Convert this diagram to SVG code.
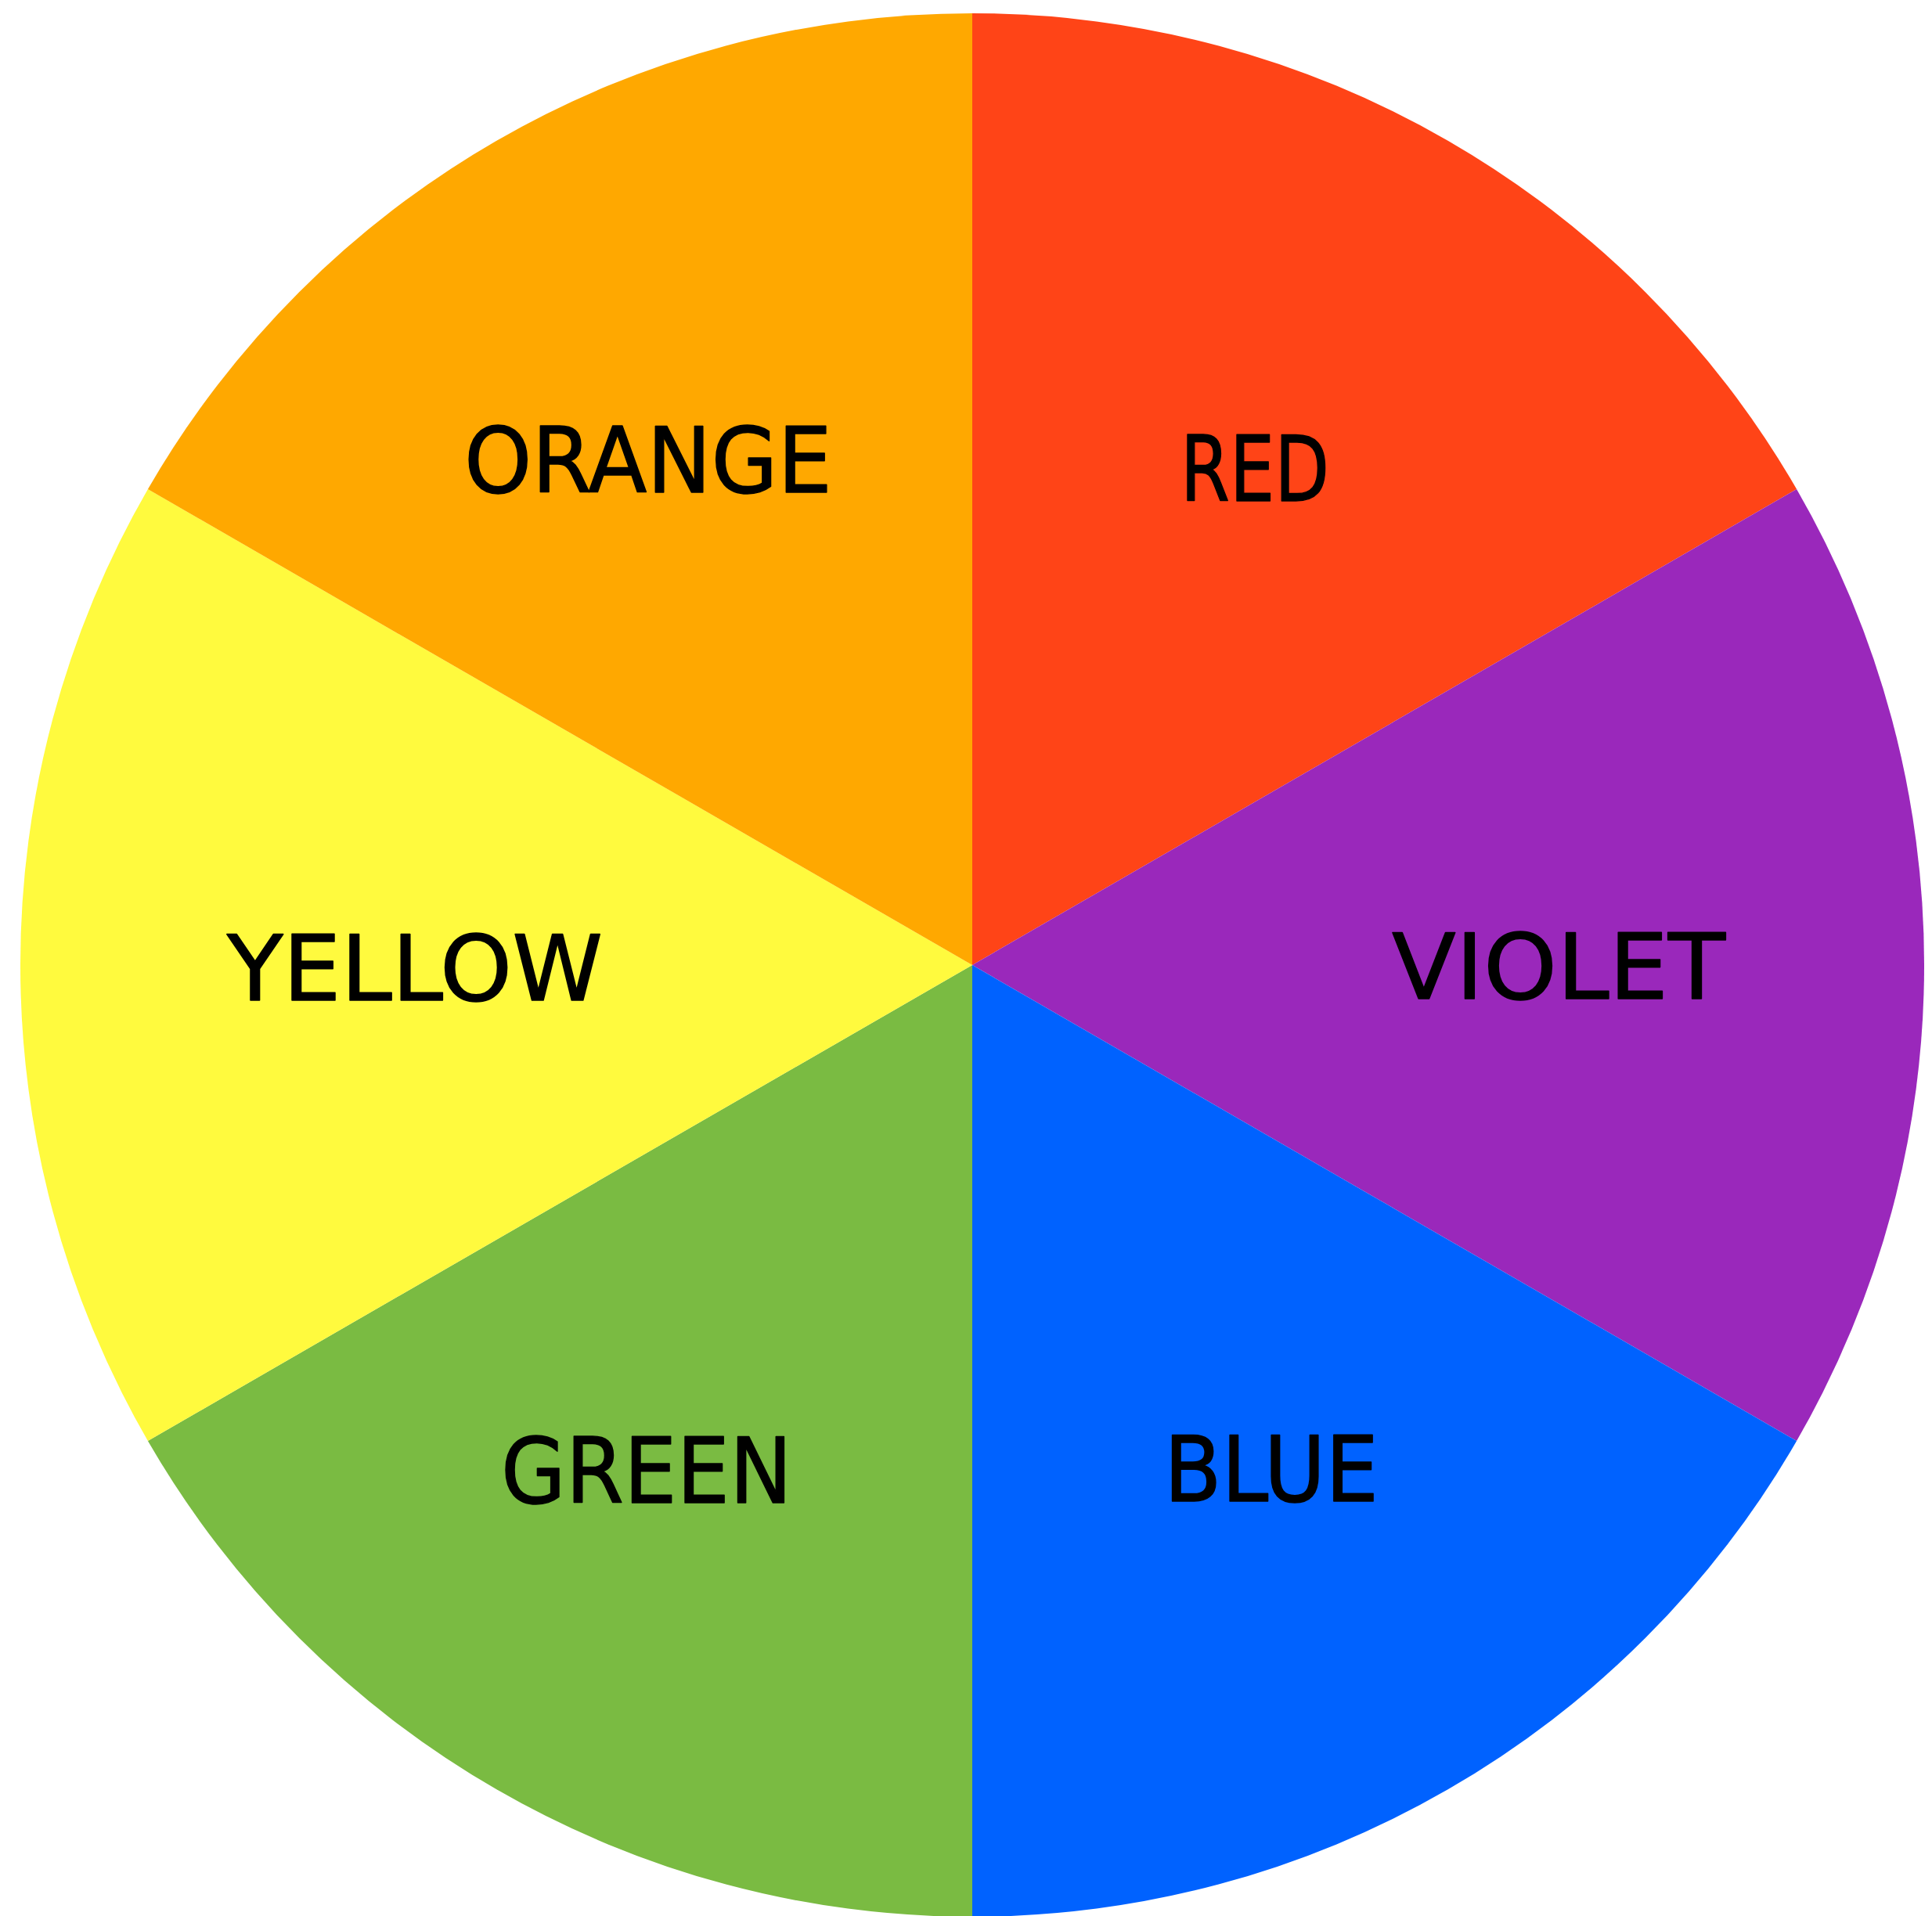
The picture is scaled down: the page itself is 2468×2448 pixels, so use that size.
<svg xmlns="http://www.w3.org/2000/svg" width="2468" height="2448" viewBox="0 0 2468 2448">
<style>
.lbl{font-family:"DejaVu Sans","Liberation Sans",sans-serif;font-size:116px;fill:#000;stroke:#000;stroke-width:1.5;stroke-linejoin:round}
</style>
<rect width="2468" height="2448" fill="#fff"/>
<g id="red">
<path d="M1242 1233 L1242 17 A1216 1216 0 0 1 2295.1 625 Z" fill="#FF4417"/>
<text class="lbl" x="1508" y="640" textLength="190" lengthAdjust="spacingAndGlyphs">RED</text>
</g>
<g id="violet">
<path d="M1242 1233 L2295.1 625 A1216 1216 0 0 1 2295.1 1841 Z" fill="#9A28BB"/>
<text class="lbl" x="1778" y="1276" textLength="426" lengthAdjust="spacingAndGlyphs">VIOLET</text>
</g>
<g id="blue">
<path d="M1242 1233 L2295.1 1841 A1216 1216 0 0 1 1242 2449 Z" fill="#0062FF"/>
<text class="lbl" x="1487" y="1918" textLength="274" lengthAdjust="spacingAndGlyphs">BLUE</text>
</g>
<g id="green">
<path d="M1242 1233 L1242 2449 A1216 1216 0 0 1 188.9 1841 Z" fill="#7ABB42"/>
<text class="lbl" x="640" y="1920" textLength="372" lengthAdjust="spacingAndGlyphs">GREEN</text>
</g>
<g id="yellow">
<path d="M1242 1233 L188.9 1841 A1216 1216 0 0 1 188.9 625 Z" fill="#FFFA3E"/>
<text class="lbl" x="290" y="1278" textLength="480" lengthAdjust="spacingAndGlyphs">YELLOW</text>
</g>
<g id="orange">
<path d="M1242 1233 L188.9 625 A1216 1216 0 0 1 1242 17 Z" fill="#FFA800"/>
<text class="lbl" x="593" y="629" textLength="470" lengthAdjust="spacingAndGlyphs">ORANGE</text>
</g>
<g id="connectors"/>
</svg>
